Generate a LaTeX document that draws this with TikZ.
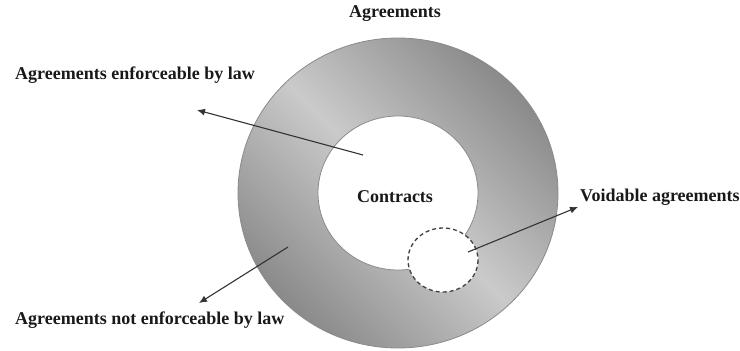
\documentclass[tikz,border=0pt]{standalone}
\usepackage{fontspec}
\setmainfont{Liberation Serif}
\usetikzlibrary{arrows.meta}
\definecolor{ringdark}{HTML}{8A8A8A}
\definecolor{ringlight}{HTML}{CACACA}
\definecolor{ringedge}{HTML}{8A8A8A}
\definecolor{arrowc}{HTML}{333333}
\tikzset{
  lbl/.style={font=\bfseries\fontsize{18}{20}\selectfont, text=black!90, inner sep=0pt},
  pointer/.style={draw=arrowc, line width=1.1pt, -{Latex[length=8pt,width=7pt]}},
}
\begin{document}
\begin{tikzpicture}[x=1pt,y=-1pt]
\useasboundingbox (0,0) rectangle (740,351);
% ring
\shade[even odd rule, top color=ringdark, bottom color=ringdark, middle color=ringlight, shading angle=-45]
  (398,193) ellipse [x radius=160, y radius=155] (398,193) ellipse [x radius=80, y radius=77];
\draw[ringedge, line width=0.8pt] (398,193) ellipse [x radius=160, y radius=155];
\draw[ringedge, line width=0.8pt, fill=white] (398,193) ellipse [x radius=80, y radius=77];
\coordinate (ctr) at (398,193);
% voidable circle
\draw[draw=black!75, line width=1.3pt, dash pattern=on 4pt off 3pt, fill=white] (443,260) ellipse [x radius=35, y radius=32];
% labels
\node[lbl] (top) at (395,14) {Agreements};
\node[lbl, anchor=west] (enf) at (15,75) {Agreements enforceable by law};
\node[lbl, anchor=west] (notenf) at (15,320) {Agreements not enforceable by law};
\node[lbl, anchor=west] (void) at (580,197) {Voidable agreements};
\node[lbl] (contracts) at (395,197) {Contracts};
% arrows
\coordinate (s1) at (363,155);
\coordinate (t1) at (197,110);
\coordinate (s2) at (288,247);
\coordinate (t2) at (199,303);
\coordinate (s3) at (468,252);
\coordinate (t3) at (578,207);
\draw[pointer] (s1) -- (t1);
\draw[pointer] (s2) -- (t2);
\draw[pointer] (s3) -- (t3);
\end{tikzpicture}
\end{document}
